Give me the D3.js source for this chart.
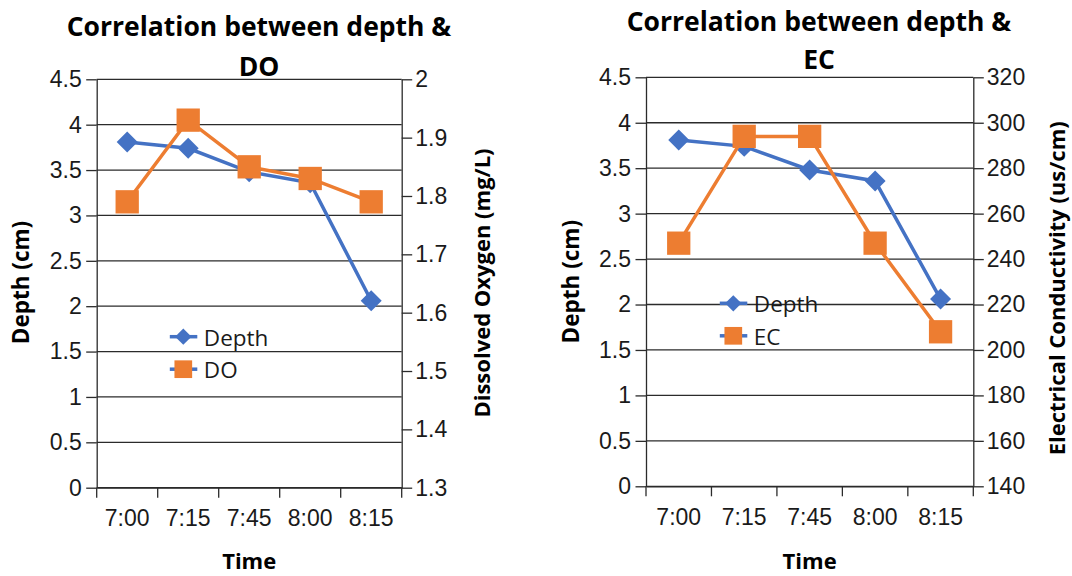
<!DOCTYPE html>
<html>
<head>
<meta charset="utf-8">
<script src="https://cdn.jsdelivr.net/npm/d3@7"></script>
<style>
  body { margin: 0; background: #fff; }
  svg { display: block; font-family: "Open Sans", Lato, sans-serif; }
</style>
</head>
<body>
<div id="chart"></div>
<script>
const times = ["7:00", "7:15", "7:45", "8:00", "8:15"];
const depth = [3.81, 3.74, 3.48, 3.36, 2.06];
const dissolvedOxygen = [1.79, 1.93, 1.85, 1.83, 1.79];
const conductivity = [247, 294, 294, 247, 208];

const depthTicks = [0, 0.5, 1, 1.5, 2, 2.5, 3, 3.5, 4, 4.5];
const doTicks = [1.3, 1.4, 1.5, 1.6, 1.7, 1.8, 1.9, 2];
const ecTicks = [140, 160, 180, 200, 220, 240, 260, 280, 300, 320];

const width = 1072;
const height = 576;
const blue = "#4472C4";
const orange = "#ED7D31";
const gridColor = "#2b2b2b";
const textColor = "#1a1a1a";

const svg = d3.select("#chart")
    .append("svg")
    .attr("width", width)
    .attr("height", height);

// layout per panel, the values come from the arrays above
const panels = [
    {
        title: ["Correlation between depth &", "DO"], titleX: 259, titleY: [36, 76],
        box: { left: 96.7, right: 401.7, top: 79.3, bottom: 487.7 },
        second: dissolvedOxygen, secondName: "DO", secondTicks: doTicks,
        secondLabel: "Dissolved Oxygen (mg/L)",
        leftLabel: [29.3, 282.5], rightLabel: [490, 283],
        timeY: 569,
        legend: { x: 183.3, y: 336.7 }
    },
    {
        title: ["Correlation between depth &", "EC"], titleX: 819, titleY: [31, 69],
        box: { left: 646, right: 973.3, top: 77.3, bottom: 486.3 },
        second: conductivity, secondName: "EC", secondTicks: ecTicks,
        secondLabel: "Electrical Conductivity (us/cm)",
        leftLabel: [579.3, 281.7], rightLabel: [1064.5, 288.3],
        timeY: 568.5,
        legend: { x: 733.3, y: 303.3 }
    }
];

const diamond = d3.symbol().type(d3.symbolDiamond2);
const square = d3.symbol().type(d3.symbolSquare);

panels.forEach(p => {
    const b = p.box;
    const g = svg.append("g");

    const x = d3.scaleBand().domain(times).range([b.left, b.right]);
    const yLeft = d3.scaleLinear().domain([0, 4.5]).range([b.bottom, b.top]);
    const yRight = d3.scaleLinear()
        .domain(d3.extent(p.secondTicks))
        .range([b.bottom, b.top]);

    // gridlines
    g.append("g")
        .selectAll("line")
        .data(depthTicks)
        .join("line")
        .attr("x1", b.left)
        .attr("x2", b.right)
        .attr("y1", d => yLeft(d))
        .attr("y2", d => yLeft(d))
        .attr("stroke", gridColor)
        .attr("stroke-width", 1.3);

    // left axis
    g.append("g")
        .attr("transform", `translate(${b.left},0)`)
        .call(d3.axisLeft(yLeft).tickValues(depthTicks).tickFormat(d => d)
            .tickSize(10.5).tickPadding(4.5).tickSizeOuter(0))
        .call(a => a.selectAll("line, path").attr("stroke", gridColor).attr("stroke-width", 1.3))
        .call(a => a.selectAll("text").attr("font-size", 23).attr("fill", textColor));

    // right axis
    g.append("g")
        .attr("transform", `translate(${b.right},0)`)
        .call(d3.axisRight(yRight).tickValues(p.secondTicks).tickFormat(d => d)
            .tickSize(10.5).tickPadding(3).tickSizeOuter(0))
        .call(a => a.selectAll("line, path").attr("stroke", gridColor).attr("stroke-width", 1.3))
        .call(a => a.selectAll("text").attr("font-size", 23).attr("fill", textColor));

    // bottom axis: labels at band centres, ticks at band edges
    g.append("g")
        .attr("transform", `translate(0,${b.bottom})`)
        .call(d3.axisBottom(x).tickSize(0).tickPadding(22))
        .call(a => a.select(".domain").attr("stroke", gridColor).attr("stroke-width", 1.3))
        .call(a => a.selectAll("text").attr("font-size", 23).attr("fill", textColor));

    const edges = times.map(t => x(t)).concat([b.right]);
    g.append("g")
        .selectAll("line")
        .data(edges)
        .join("line")
        .attr("x1", d => d)
        .attr("x2", d => d)
        .attr("y1", b.bottom)
        .attr("y2", b.bottom + 10)
        .attr("stroke", gridColor)
        .attr("stroke-width", 1.3);

    // titles
    p.title.forEach((t, i) => {
        g.append("text")
            .attr("x", p.titleX)
            .attr("y", p.titleY[i])
            .attr("text-anchor", "middle")
            .attr("font-size", 26.5)
            .attr("font-weight", "bold")
            .attr("fill", "#000")
            .text(t);
    });

    g.append("text")
        .attr("transform", `translate(${p.leftLabel[0]},${p.leftLabel[1]}) rotate(-90)`)
        .attr("text-anchor", "middle")
        .attr("font-size", 22.5)
        .attr("font-weight", "bold")
        .attr("fill", "#000")
        .text("Depth (cm)");
    g.append("text")
        .attr("transform", `translate(${p.rightLabel[0]},${p.rightLabel[1]}) rotate(-90)`)
        .attr("text-anchor", "middle")
        .attr("font-size", 22)
        .attr("font-weight", "bold")
        .attr("fill", "#000")
        .text(p.secondLabel);
    g.append("text")
        .attr("x", (b.left + b.right) / 2)
        .attr("y", p.timeY)
        .attr("text-anchor", "middle")
        .attr("font-size", 22)
        .attr("font-weight", "bold")
        .attr("fill", "#000")
        .text("Time");

    const cx = d => x(d) + x.bandwidth() / 2;

    // depth series
    g.append("path")
        .datum(depth)
        .attr("fill", "none")
        .attr("stroke", blue)
        .attr("stroke-width", 3.5)
        .attr("d", d3.line().x((d, i) => cx(times[i])).y(d => yLeft(d)));
    g.append("g")
        .selectAll("path")
        .data(depth)
        .join("path")
        .attr("transform", (d, i) => `translate(${cx(times[i])},${yLeft(d)})`)
        .attr("d", diamond.size(281))
        .attr("fill", blue);

    // second series
    g.append("path")
        .datum(p.second)
        .attr("fill", "none")
        .attr("stroke", orange)
        .attr("stroke-width", 3.5)
        .attr("d", d3.line().x((d, i) => cx(times[i])).y(d => yRight(d)));
    g.append("g")
        .selectAll("path")
        .data(p.second)
        .join("path")
        .attr("transform", (d, i) => `translate(${cx(times[i])},${yRight(d)})`)
        .attr("d", square.size(543))
        .attr("fill", orange);

    // legend
    const items = [
        { name: "Depth", color: blue, sym: diamond.size(170) },
        { name: p.secondName, color: orange, sym: square.size(313) }
    ];
    const lg = g.append("g").attr("transform", `translate(${p.legend.x},${p.legend.y})`);
    items.forEach((it, i) => {
        const row = lg.append("g").attr("transform", `translate(0,${i * 32.5})`);
        row.append("line")
            .attr("x1", -13.5).attr("x2", 14)
            .attr("stroke", blue)
            .attr("stroke-width", 3.5);
        row.append("path").attr("d", it.sym).attr("fill", it.color);
        row.append("text")
            .attr("x", 20.5)
            .attr("y", 9)
            .attr("font-size", 22.5)
            .attr("fill", textColor)
            .text(it.name);
    });
});
</script>
</body>
</html>
